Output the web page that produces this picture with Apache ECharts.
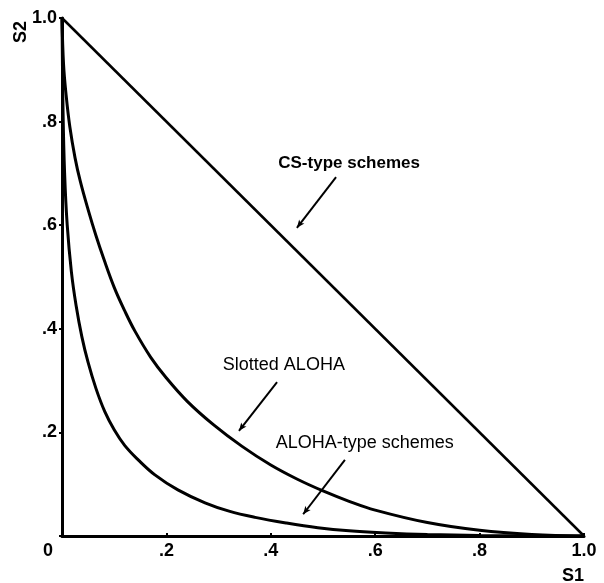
<!DOCTYPE html>
<html>
<head>
<meta charset="utf-8">
<script src="https://cdn.jsdelivr.net/npm/echarts@6/dist/echarts.min.js"></script>
<style>html,body{margin:0;padding:0;background:#fff;}#c{width:604px;height:583px;}</style>
</head>
<body>
<div id="c"></div>
<script>
// ---- data ----
const tickValues = [0, 0.2, 0.4, 0.6, 0.8, 1.0];
const tickLabels = ['0', '.2', '.4', '.6', '.8', '1.0'];

const csX = [0, 1];
const csY = [1, 0];

const slottedX = [0, 0.003, 0.008, 0.015, 0.025, 0.035, 0.05, 0.065, 0.08, 0.1, 0.12, 0.14, 0.17, 0.2, 0.24, 0.29, 0.345, 0.4, 0.45, 0.5, 0.55, 0.6, 0.7, 0.8, 0.9, 1.0];
const slottedY = [1, 0.91, 0.85, 0.79, 0.73, 0.685, 0.63, 0.58, 0.535, 0.48, 0.435, 0.395, 0.345, 0.305, 0.26, 0.215, 0.173, 0.137, 0.11, 0.087, 0.067, 0.05, 0.026, 0.011, 0.003, 0];

const alohaX = [0, 0.002, 0.005, 0.01, 0.018, 0.027, 0.038, 0.05, 0.065, 0.082, 0.1, 0.12, 0.146, 0.178, 0.222, 0.274, 0.32, 0.37, 0.43, 0.49, 0.55, 0.62, 0.7, 0.8, 0.9, 1.0];
const alohaY = [1, 0.82, 0.7, 0.6, 0.51, 0.445, 0.385, 0.335, 0.285, 0.24, 0.205, 0.175, 0.147, 0.118, 0.089, 0.064, 0.048, 0.036, 0.025, 0.016, 0.01, 0.006, 0.003, 0.001, 0.0003, 0];

const annTexts = ['CS-type schemes', 'Slotted ALOHA', 'ALOHA-type schemes'];
const annTextPos = [[0.55, 0.72], [0.425, 0.33], [0.58, 0.18]];
const annArrows = [
  [[0.525, 0.693], [0.450, 0.595]],
  [[0.412, 0.297], [0.339, 0.203]],
  [[0.542, 0.147], [0.462, 0.042]]
];

const zip = (a, b) => a.map((v, i) => [v, b[i]]);
const fmt = v => { const i = tickValues.findIndex(t => Math.abs(t - v) < 1e-9); return i >= 0 ? tickLabels[i] : ''; };

const chart = echarts.init(document.getElementById('c'), null, {renderer: 'canvas'});
const FONT = '"Liberation Sans", Arial, sans-serif';
const curveStyle = {color: '#000', width: 3};

chart.setOption({
  animation: false,
  backgroundColor: '#fff',
  grid: {left: 62, right: 20, top: 18, bottom: 47, containLabel: false, outerBoundsMode: 'none'},
  xAxis: {
    type: 'value', min: 0, max: 1, interval: 0.2,
    name: 'S1', nameLocation: 'end', nameGap: 0,
    nameTextStyle: {fontFamily: FONT, fontWeight: 'bold', fontSize: 18, color: '#000', align: 'center', verticalAlign: 'top', padding: [31, 0, 0, -22]},
    axisLine: {show: true, lineStyle: {color: '#000', width: 3}},
    axisTick: {show: true, inside: true, length: 3, lineStyle: {color: '#000', width: 2}},
    splitLine: {show: false},
    axisLabel: {
      margin: 6, fontFamily: FONT, fontWeight: 'bold', fontSize: 18, color: '#000',
      formatter: v => v === 0 ? '{z|0}' : fmt(v),
      rich: {z: {fontFamily: FONT, fontWeight: 'bold', fontSize: 18, color: '#000', padding: [0, 28, 0, 0]}}
    }
  },
  yAxis: {
    type: 'value', min: 0, max: 1, interval: 0.2,
    axisLine: {show: true, lineStyle: {color: '#000', width: 3}},
    axisTick: {show: true, inside: false, length: 3, lineStyle: {color: '#000', width: 2}},
    splitLine: {show: false},
    axisLabel: {margin: 5, fontFamily: FONT, fontWeight: 'bold', fontSize: 18, color: '#000', formatter: v => v === 0 ? '' : fmt(v)}
  },
  graphic: [{
    type: 'text', x: 21, y: 32, rotation: Math.PI / 2,
    style: {text: 'S2', fontFamily: FONT, fontWeight: 'bold', fontSize: 18, fill: '#000', align: 'center', verticalAlign: 'middle'}
  }],
  series: [
    {type: 'line', data: zip(csX, csY), symbol: 'none', lineStyle: {color: '#000', width: 2.5}, silent: true},
    {type: 'line', data: zip(slottedX, slottedY), symbol: 'none', smooth: 0.4, lineStyle: curveStyle, silent: true},
    {type: 'line', data: zip(alohaX, alohaY), symbol: 'none', smooth: 0.4, lineStyle: curveStyle, silent: true},
    {
      type: 'line', data: [], silent: true,
      markLine: {
        silent: true, symbol: ['none', 'arrow'], symbolSize: [5, 8],
        label: {show: false},
        lineStyle: {color: '#000', width: 2, type: 'solid'},
        data: annArrows.map(a => [{coord: a[0]}, {coord: a[1]}])
      },
      markPoint: {
        silent: true, symbol: 'rect', symbolSize: 1,
        itemStyle: {color: 'transparent'},
        data: annTexts.map((t, i) => ({
          coord: annTextPos[i],
          label: {
            show: true, position: 'inside', formatter: t, color: '#000', fontFamily: FONT,
            fontSize: i === 0 ? 17 : 18, fontWeight: i === 0 ? 'bold' : 'normal'
          }
        }))
      }
    }
  ]
});
</script>
</body>
</html>
